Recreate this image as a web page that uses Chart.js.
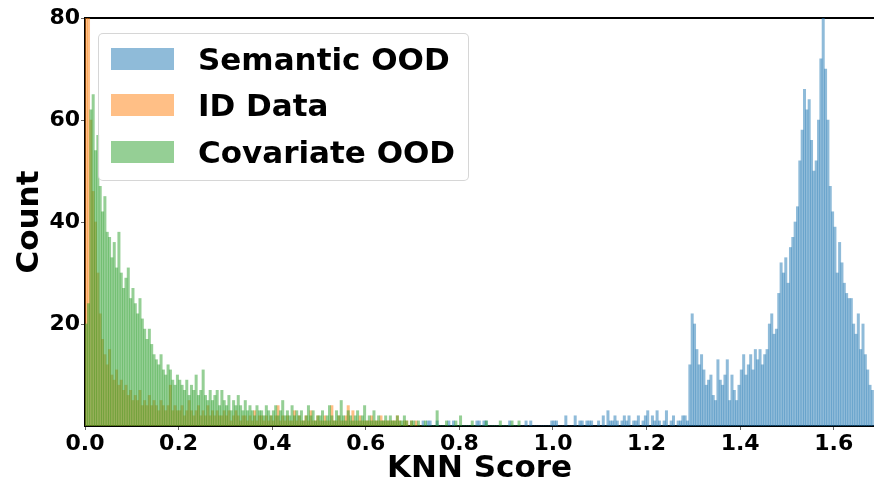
<!DOCTYPE html>
<html>
<head>
<meta charset="utf-8">
<script src="https://cdn.jsdelivr.net/npm/chart.js@4.4.1/dist/chart.umd.min.js"></script>
<style>
  html, body { margin:0; padding:0; background:#fff; }
  #wrap { position:relative; width:874px; height:482px; overflow:hidden; }
  #legend { position:absolute; left:98px; top:33px; width:371px; height:148px; box-sizing:border-box;
            border:1px solid rgba(204,204,204,0.8); border-radius:5px; background:rgba(255,255,255,0.8);
            font-family:"DejaVu Sans"; font-weight:bold; font-size:31px; color:#000; }
  .item { position:absolute; left:0; height:46px; display:flex; align-items:center; white-space:nowrap; }
  .sw { width:63px; height:22px; margin-left:12px; margin-right:24px; }
</style>
</head>
<body>
<div id="wrap">
  <canvas id="c" width="874" height="482"></canvas>
  <div id="legend"></div>
</div>
<script>
// histogram bins (bin width in KNN score units)
const BIN_WIDTH = 0.005;

// Semantic OOD: bins starting at 0.72
const semanticStart = 0.72;
const semanticCounts = [
  1,0,1,1,0,0,1,0, 0,0,0,1,0,1,0,0, 0,0,0,0,0,0,0,1, 1,0,1,1,0,0,0,0,
  0,0,0,0,0,1,0,0, 0,0,0,0,1,0,1,0, 0,0,0,0,0,0,0,1, 1,1,0,0,0,2,0,0,
  0,2,0,1,1,0,1,1, 1,0,0,1,0,2,0,3, 1,1,2,1,0,1,2,1, 2,0,1,1,2,0,1,2,
  3,0,2,1,3,1,0,1, 3,0,1,2,0,1,1,2,2,1,
  12,22,20,15,12,14,11,8,9,10,
  6,5,13,9,8,10,13,5,10,7,
  5,8,11,14,10,12,14,11,15,13,
  15,12,14,15,20,22,18,19,26,32,
  30,33,28,35,37,40,43,52,58,66,
  62,64,56,50,52,60,72,82,70,60,
  47,42,39,30,36,32,28,26,25,25,
  20,18,22,15,20,14,11,8,7
];

// ID Data: bins starting at 0.0
const idStart = 0.0;
const idCounts = [
  96,90,60,46,40,30,22,17,14,12,
  15,10,9,11,8,9,7,8,6,7,
  5,6,5,7,4,5,4,6,4,5,
  4,3,5,4,3,4,8,3,4,3,
  3,4,2,3,5,3,2,3,4,2,
  3,2,4,2,3,2,3,2,2,3,
  2,3,1,2,3,2,1,2,2,1,
  2,1,3,1,2,2,1,2,1,2,
  1,2,4,1,2,1,2,1,1,3,
  1,2,1,1,2,1,3,1,1,2,
  1,1,2,1,1,4,1,1,2,1,
  1,2,4,1,3,1,1,2,1,1,
  1,1,2,1,1,1,2,1,1,1,
  1,1,1,2,1,0,1,1,0,1,
  0,1,0,0
];

// Covariate OOD: bins starting at 0.0
const covStart = 0.0;
const covCounts = [
  20,24,62,65,54,57,47,42,45,38,
  37,33,36,31,38,30,27,29,31,25,
  27,24,22,25,21,19,17,19,16,14,
  13,12,14,11,10,12,11,9,8,10,
  9,8,7,9,6,8,7,10,6,7,
  11,6,5,7,5,6,7,4,7,5,
  4,6,3,5,4,6,4,3,5,3,
  4,3,2,4,3,3,2,4,3,2,
  3,4,2,3,5,2,3,2,4,2,
  3,2,3,1,2,4,2,3,1,2,
  2,3,1,2,4,2,1,3,2,5,
  2,1,3,2,1,2,3,1,2,4,
  1,2,1,3,1,2,1,1,2,1,
  2,1,1,2,1,1,2,1,0,1,
  1,0,1,0,0,1,0,0,0,0,
  3,0,0,0,1,0,0,0,1,0,
  2,0,0,0,0,1,0,0,0,0,
  0,1,0,0,0,0,0,1,0,0,
  0,0,1,0,0,1
];

const seriesNames = ['Semantic OOD', 'ID Data', 'Covariate OOD'];
const seriesColors = ['rgba(31,119,180,0.5)', 'rgba(255,127,14,0.5)', 'rgba(44,160,44,0.5)'];

const xTicks = [0.0, 0.2, 0.4, 0.6, 0.8, 1.0, 1.2, 1.4, 1.6];
const yTicks = [20, 40, 60, 80];
const X_MAX = 1.686, Y_MAX = 80;

// bin centres, rounded so that equal centres of different series compare equal
function toPoints(start, counts){
  return counts.map((c, i) => ({ x: +(start + (i + 0.5) * BIN_WIDTH).toFixed(4), y: c }));
}

// legend (html overlay, matplotlib style)
const lg = document.getElementById('legend');
seriesNames.forEach((name, i) => {
  const it = document.createElement('div');
  it.className = 'item';
  it.style.top = (2 + i * 46.3) + 'px';
  it.innerHTML = `<span class="sw" style="background:${seriesColors[i]}"></span><span>${name}</span>`;
  lg.appendChild(it);
});

Chart.defaults.font.family = 'DejaVu Sans';
const tickFont = { family:'DejaVu Sans', size:22, weight:'bold' };
const titleFont = { family:'DejaVu Sans', size:31, weight:'bold', lineHeight:1 };

new Chart(document.getElementById('c'), {
  type: 'bar',
  data: {
    datasets: [
      { label: seriesNames[2], data: toPoints(covStart, covCounts), backgroundColor: seriesColors[2], order: 0 },
      { label: seriesNames[1], data: toPoints(idStart, idCounts), backgroundColor: seriesColors[1], order: 1 },
      { label: seriesNames[0], data: toPoints(semanticStart, semanticCounts), backgroundColor: seriesColors[0], order: 2 }
    ]
  },
  options: {
    responsive: false, animation: false, devicePixelRatio: 1,
    layout: { padding: { top: 18, right: 0, bottom: 0, left: 0 } },
    plugins: { legend: { display: false }, tooltip: { enabled: false } },
    datasets: { bar: { barPercentage: 1, categoryPercentage: 1, grouped: false, borderWidth: 0 } },
    scales: {
      x: {
        type: 'linear', min: 0, max: X_MAX, offset: false, z: 1,
        afterFit: s => { s.height = 56; },
        afterBuildTicks: s => { s.ticks = xTicks.map(v => ({ value: v })); },
        ticks: { callback: v => v.toFixed(1), color: '#000', font: tickFont, padding: 1, maxRotation: 0, autoSkip: false },
        grid: { display: true, drawOnChartArea: false, tickLength: 4, color: '#666', offset: false },
        border: { display: true, color: '#000', width: 2 },
        title: { display: true, text: 'KNN Score', color: '#000', font: titleFont, padding: { top: 0, bottom: -2 } }
      },
      x2: {
        type: 'linear', position: 'top', min: 0, max: X_MAX, z: 1,
        afterFit: s => { s.height = 0; },
        ticks: { display: false },
        grid: { display: false, drawTicks: false },
        border: { display: true, color: '#000', width: 2 }
      },
      y: {
        min: 0, max: Y_MAX, z: 1,
        afterFit: s => { s.width = 85; },
        afterBuildTicks: s => { s.ticks = yTicks.map(v => ({ value: v })); },
        ticks: { color: '#000', font: tickFont, padding: 1 },
        grid: { display: true, drawOnChartArea: false, tickLength: 4, color: '#666' },
        border: { display: true, color: '#000', width: 2 },
        title: { display: true, text: 'Count', color: '#000', font: titleFont, padding: { top: 14, bottom: 0 } }
      }
    }
  }
});
</script>
</body>
</html>
